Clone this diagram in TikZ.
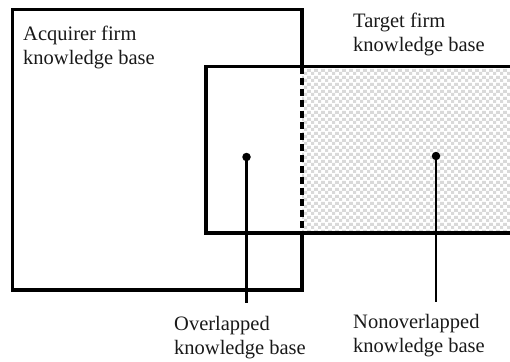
\documentclass[tikz,border=0pt]{standalone}
\usepackage{fontspec}
\setmainfont{Liberation Serif}
\usetikzlibrary{patterns}
\pgfdeclarepatterninherentlycolored{lightchecker}{\pgfpointorigin}{\pgfpoint{6.6pt}{6.6pt}}{\pgfpoint{6.6pt}{6.6pt}}{%
  \pgfsetfillcolor{black!15}%
  \pgfpathrectangle{\pgfpointorigin}{\pgfpoint{3.3pt}{3.3pt}}%
  \pgfpathrectangle{\pgfpoint{3.3pt}{3.3pt}}{\pgfpoint{3.3pt}{3.3pt}}%
  \pgfusepath{fill}}
\begin{document}
\begin{tikzpicture}[x=1pt,y=-1pt,
  boxline/.style={line width=3.4pt},
  dashline/.style={line width=3.4pt,dash pattern=on 7pt off 4pt},
  conn/.style={line width=2.5pt},
  dot/.style={circle,fill=black,inner sep=0pt,minimum size=8.5pt},
  lab/.style={font=\fontsize{20.5}{24}\selectfont,align=left,inner sep=0pt,anchor=base west,text=black!90}]
\useasboundingbox (0,0) rectangle (510,361);
% nonoverlapped region shading
\fill[pattern=lightchecker] (302,66.5) rectangle (512,233);
% target firm box
\draw[boxline] (512,66.5) -- (206,66.5) -- (206,233) -- (512,233);
% acquirer firm box
\draw[boxline] (302,66.5) -- (302,9.5) -- (12.5,9.5) -- (12.5,290) -- (302,290) -- (302,233);
\draw[dashline] (302,66.5) -- (302,233);
% labels (anchor = baseline of the last line)
\node[lab] (acq) at (23,64) {Acquirer firm\\knowledge base};
\node[lab] (tgt) at (353,52) {Target firm\\knowledge base};
\node[lab] (ovl) at (174,354) {Overlapped\\knowledge base};
\node[lab] (novl) at (353,352) {Nonoverlapped\\knowledge base};
% dots and connectors
\node[dot] (d1) at (246.5,157) {};
\node[dot] (d2) at (436,156) {};
\coordinate (e1) at (246.5,303);
\coordinate (e2) at (436,302);
\draw[conn] (d1.center) -- (e1);
\draw[conn] (d2.center) -- (e2);
\end{tikzpicture}
\end{document}
